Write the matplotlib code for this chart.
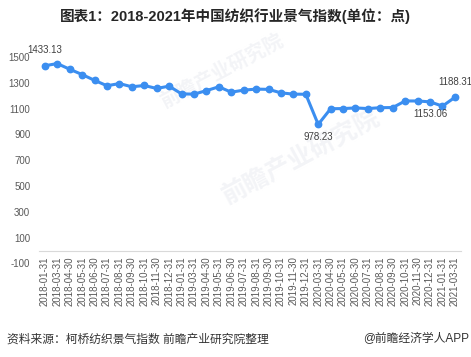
import matplotlib
matplotlib.use("Agg")
import matplotlib.pyplot as plt

plt.rcParams['font.family'] = ['Liberation Sans', 'Noto Sans CJK SC', 'DejaVu Sans']

# month-end dates shown on the x axis (Jan+Feb are merged, so no xx-02 points)
dates = ['2018-01-31', '2018-03-31', '2018-04-30', '2018-05-31', '2018-06-30',
         '2018-07-31', '2018-08-31', '2018-09-30', '2018-10-31', '2018-11-30',
         '2018-12-31', '2019-01-31', '2019-03-31', '2019-04-30', '2019-05-31',
         '2019-06-30', '2019-07-31', '2019-08-31', '2019-09-30', '2019-10-31',
         '2019-11-30', '2019-12-31', '2020-03-31', '2020-04-30', '2020-05-31',
         '2020-06-30', '2020-07-31', '2020-08-31', '2020-09-30', '2020-10-31',
         '2020-11-30', '2020-12-31', '2021-01-31', '2021-03-31']

# textile industry prosperity index (points)
index_vals = [1433.13, 1450, 1406, 1365, 1320, 1278, 1295, 1270, 1280, 1257,
              1275, 1215, 1213, 1240, 1270, 1228, 1244, 1252, 1250, 1223,
              1213, 1212, 978.23, 1100, 1101, 1106, 1101, 1108, 1109, 1160,
              1160, 1153.06, 1120, 1188.31]

# which points get a value label, and whether above or below
labelled = {0: 'above', 22: 'below', 31: 'below', 33: 'above'}

yticks = [-100, 100, 300, 500, 700, 900, 1100, 1300, 1500]

blue = '#3b8ef0'
grey_text = '#595959'

fig = plt.figure(figsize=(4.71, 3.57), dpi=100)
ax = fig.add_axes([0.082, 0.262, 0.897, 0.578])

x = list(range(len(dates)))
ax.plot(x, index_vals, color=blue, linewidth=2.2, marker='o', markersize=4.6,
        solid_capstyle='round', zorder=3)

for i, pos in labelled.items():
    off = 11 if pos == 'above' else -9
    ax.annotate(f'{index_vals[i]:.2f}', (x[i], index_vals[i]),
                xytext=(0, off), textcoords='offset points',
                ha='center', va='center', fontsize=7, color='#404040', zorder=4)

ax.set_xlim(-0.5, len(dates) - 0.5)
ax.set_ylim(-100, 1500)
ax.set_yticks(yticks)
ax.set_yticklabels([str(v) for v in yticks])
ax.set_xticks(x)
ax.set_xticklabels(dates)
ax.tick_params(axis='y', length=0, labelsize=7, labelcolor=grey_text, pad=6)
ax.tick_params(axis='x', length=0, labelsize=7, labelcolor=grey_text, pad=4,
               labelrotation=90)

for side in ['left', 'right', 'top']:
    ax.spines[side].set_visible(False)
ax.spines['bottom'].set_position(('data', 0))
ax.spines['bottom'].set_color('#d9d9d9')
ax.spines['bottom'].set_linewidth(0.8)

# faint watermarks, kept behind the line
ax.text(0.47, 0.80, '前瞻产业研究院', transform=fig.transFigure, fontsize=14,
        color='#f3f4f7', rotation=28, ha='center', va='center',
        fontweight='bold', zorder=1)
ax.text(0.64, 0.56, '前瞻产业研究院', transform=fig.transFigure, fontsize=18,
        color='#f3f4f7', rotation=28, ha='center', va='center',
        fontweight='bold', zorder=1)

fig.text(0.5, 0.955, '图表1：2018-2021年中国纺织行业景气指数(单位：点)',
         ha='center', va='center', fontsize=10.5, fontweight='bold', color='#262626')
fig.text(0.015, 0.05, '资料来源：柯桥纺织景气指数 前瞻产业研究院整理',
         ha='left', va='center', fontsize=8.5, color='#333333')
fig.text(0.997, 0.05, '@前瞻经济学人APP',
         ha='right', va='center', fontsize=8.5, color='#333333')

fig.savefig('out.png', dpi=100)
